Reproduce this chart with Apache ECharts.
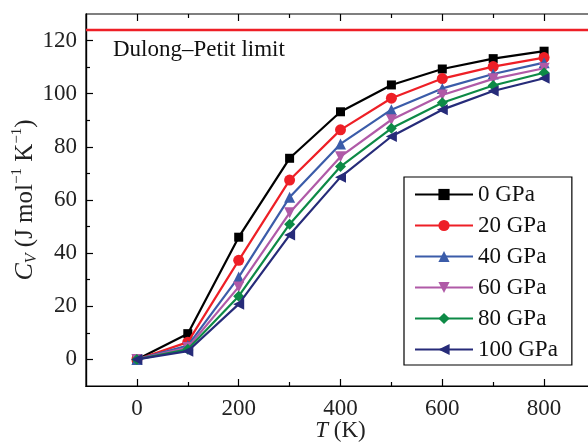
<!DOCTYPE html>
<html>
<head>
<meta charset="utf-8">
<script src="https://cdn.jsdelivr.net/npm/echarts@6/dist/echarts.min.js"></script>
<style>
html,body{margin:0;padding:0;background:#fff}
#main{width:588px;height:444px}
</style>
</head>
<body>
<div id="main"></div>
<script>
// temperature points (K)
var temps = [0, 100, 200, 300, 400, 500, 600, 700, 800];
var pressures = ['0 GPa', '20 GPa', '40 GPa', '60 GPa', '80 GPa', '100 GPa'];
// heat capacity Cv, J mol-1 K-1
var cv0   = [0, 9.7, 46.0, 75.7, 93.2, 103.3, 109.3, 113.2, 116.0];
var cv20  = [0, 6.5, 37.3, 67.5, 86.4, 98.3, 105.7, 110.2, 113.6];
var cv40  = [0, 5.2, 31.0, 61.0, 81.1, 94.0, 102.0, 107.4, 111.7];
var cv60  = [0, 4.5, 27.3, 55.2, 76.3, 90.2, 99.5, 105.6, 109.6];
var cv80  = [0, 3.8, 23.8, 50.9, 72.6, 87.0, 96.6, 103.1, 107.9];
var cv100 = [0, 3.1, 20.8, 46.8, 68.6, 83.9, 94.0, 101.0, 105.8];
var dulongPetit = 124;

var xMajor = [0, 200, 400, 600, 800];
var xMinor = [100, 300, 500, 700];
var yMajor = [0, 20, 40, 60, 80, 100, 120];
var yMinor = [10, 30, 50, 70, 90, 110];

var allData = [cv0, cv20, cv40, cv60, cv80, cv100];
var colors = ['#000000', '#ee1f26', '#3b5ca9', '#b05aa7', '#0d8a46', '#262b79'];
var symbols = ['rect', 'circle', 'triangle', 'path://M0,0 L10,0 L5,9 Z', 'diamond', 'path://M9,0 L9,10 L0,5 Z'];
var sizes = [9, 11, 11, 11, 11, 11];

var FONT = 'Liberation Serif';
var FS = 23;

function xAx(pos, vals, len, showLabel, withName) {
    var a = {
        type: 'value', position: pos, min: -100, max: 900,
        axisLine: { show: pos === 'bottom', onZero: false, lineStyle: { color: '#000', width: 1.2 } },
        axisTick: { show: true, inside: true, length: len, customValues: vals, lineStyle: { color: '#000', width: 1.2 } },
        axisLabel: { show: showLabel, customValues: vals, color: '#222', fontFamily: FONT, fontSize: FS, margin: 11 },
        splitLine: { show: false }
    };
    if (withName) {
        a.name = '{i|T} (K)';
        a.nameLocation = 'middle';
        a.nameGap = 33;
        a.nameMoveOverlap = false;
        a.nameTextStyle = { color: '#222', fontFamily: FONT, fontSize: FS, rich: { i: { fontStyle: 'italic', fontFamily: FONT, fontSize: FS } } };
    }
    return a;
}
function yAx(pos, vals, len, showLabel, withName) {
    var a = {
        type: 'value', position: pos, min: -10, max: 130,
        axisLine: { show: true, onZero: false, lineStyle: { color: '#000', width: 1.2 } },
        axisTick: { show: true, inside: true, length: len, customValues: vals, lineStyle: { color: '#000', width: 1.2 } },
        axisLabel: { show: showLabel, customValues: vals, color: '#222', fontFamily: FONT, fontSize: FS, margin: 9 },
        splitLine: { show: false }
    };
    if (withName) {
        a.name = '{i|C}{sub|V}{t| (J mol}{sup|−1}{t| K}{sup|−1}{t|)}';
        a.nameLocation = 'middle';
        a.nameGap = 46;
        a.nameMoveOverlap = false;
        a.nameTextStyle = {
            color: '#222', fontFamily: FONT, fontSize: 25,
            rich: {
                i: { fontStyle: 'italic', fontFamily: FONT, fontSize: 26, lineHeight: 30 },
                sub: { fontStyle: 'italic', fontFamily: FONT, fontSize: 16, verticalAlign: 'bottom', lineHeight: 30 },
                t: { fontFamily: FONT, fontSize: 25, lineHeight: 30 },
                sup: { fontFamily: FONT, fontSize: 15, verticalAlign: 'top', lineHeight: 30 }
            }
        };
    }
    return a;
}

var seriesList = [];
for (var i = 0; i < pressures.length; i++) {
    var pts = [];
    for (var j = 0; j < temps.length; j++) pts.push([temps[j], allData[i][j]]);
    var s = {
        name: pressures[i],
        type: 'line',
        data: pts,
        symbol: symbols[i],
        symbolSize: sizes[i],
        showSymbol: true,
        color: colors[i],
        lineStyle: { width: 2.2, color: colors[i] },
        itemStyle: { color: colors[i] },
        z: 2 + i
    };
    if (i === 0) {
        s.markLine = {
            silent: true, symbol: 'none',
            label: { show: false },
            lineStyle: { color: '#ee1f26', width: 2.4, type: 'solid' },
            data: [{ yAxis: dulongPetit }]
        };
    }
    seriesList.push(s);
}

var option = {
    animation: false,
    backgroundColor: '#fff',
    grid: { left: 86, right: -7, top: 14, bottom: 58, outerBoundsMode: 'none', containLabel: false,
        show: true, borderColor: '#000', borderWidth: 1.2 },
    xAxis: [
        xAx('bottom', xMajor, 7, true, true),
        xAx('bottom', xMinor, 4, false, false),
        xAx('top', xMajor, 7, false, false),
        xAx('top', xMinor, 4, false, false)
    ],
    yAxis: [
        yAx('left', yMajor, 7, true, true),
        yAx('left', yMinor, 4, false, false),
        yAx('right', yMajor, 7, false, false),
        yAx('right', yMinor, 4, false, false)
    ],
    legend: {
        data: pressures,
        orient: 'vertical',
        left: 404, top: 177,
        padding: [6, 14, 4, 10],
        borderColor: '#000', borderWidth: 1.2,
        itemWidth: 58, itemHeight: 14, itemGap: 8,
        textStyle: { fontFamily: FONT, fontSize: FS, color: '#111' }
    },
    graphic: [{
        type: 'text', left: 113, top: 38,
        style: { text: 'Dulong–Petit limit', fontFamily: FONT, fontSize: FS, fill: '#111' }
    }],
    series: seriesList
};

var myChart = echarts.init(document.getElementById('main'));
myChart.setOption(option);
</script>
</body>
</html>
